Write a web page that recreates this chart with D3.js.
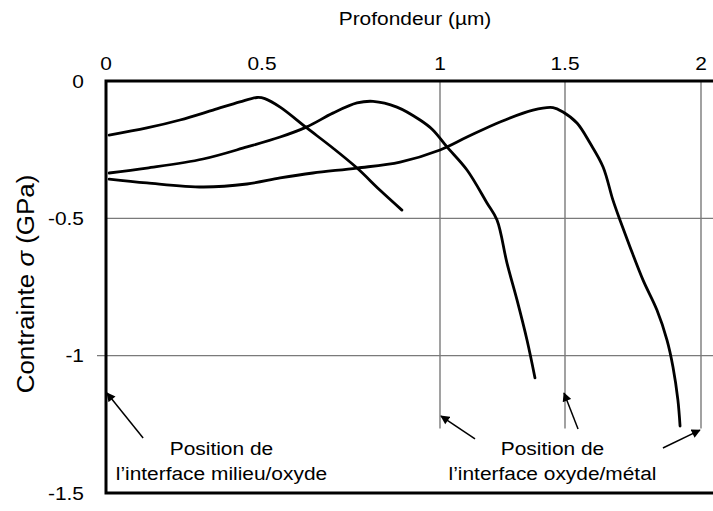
<!DOCTYPE html>
<html>
<head>
<meta charset="utf-8">
<script src="https://cdn.jsdelivr.net/npm/d3@7"></script>
<style>
body { margin: 0; background: #fff; }
text { font-family: "Liberation Sans", Arial, sans-serif; fill: #000; }
</style>
</head>
<body>
<script>
// ticks
var depthTicks = [0, 0.5, 1, 1.5, 2];
var depthTickLabels = ["0", "0.5", "1", "1.5", "2"];
var stressTicks = [0, -0.5, -1, -1.5];
var stressTickLabels = ["0", "-0.5", "-1", "-1.5"];
var interfaceDepths = [1, 1.5, 2];

// profiles [depth (um), stress (GPa)]
var profile1 = [[0.01,-0.197],[0.131,-0.171],[0.237,-0.142],[0.343,-0.106],[0.429,-0.076],
                [0.484,-0.060],[0.508,-0.064],[0.551,-0.095],[0.626,-0.171],[0.699,-0.244],
                [0.767,-0.317],[0.831,-0.397],[0.893,-0.470]];
var profile2 = [[0.01,-0.335],[0.131,-0.317],[0.311,-0.284],[0.452,-0.240],[0.551,-0.204],
                [0.626,-0.167],[0.699,-0.117],[0.767,-0.080],[0.812,-0.074],[0.879,-0.095],
                [0.944,-0.142],[0.980,-0.178],[1.028,-0.240],[1.108,-0.324],[1.188,-0.444],
                [1.228,-0.506],[1.268,-0.663],[1.308,-0.797],[1.348,-0.943],[1.380,-1.081]];
var profile3 = [[0.01,-0.357],[0.131,-0.371],[0.311,-0.386],[0.452,-0.375],[0.551,-0.353],
                [0.643,-0.335],[0.767,-0.317],[0.888,-0.295],[1.0,-0.251],[1.108,-0.204],
                [1.24,-0.149],[1.372,-0.106],[1.452,-0.097],[1.492,-0.113],[1.544,-0.153],
                [1.592,-0.226],[1.640,-0.313],[1.676,-0.433],[1.702,-0.506],[1.739,-0.604],
                [1.787,-0.725],[1.838,-0.834],[1.875,-0.943],[1.897,-1.041],[1.915,-1.161],
                [1.923,-1.256]];

// annotation arrows: [tail depth, tail stress, tip depth, tip stress]
var arrows = [[0.119,-1.300, 0.003,-1.136],
              [1.140,-1.303, 1.004,-1.220],
              [1.548,-1.267, 1.496,-1.136],
              [1.860,-1.336, 1.996,-1.271]];
var notes = [{x: 0.37, lines: ["Position de", "l\u2019interface milieu/oxyde"]},
             {x: 1.45, lines: ["Position de", "l\u2019interface oxyde/m\u00e9tal"]}];

var svg = d3.select("body").append("svg")
            .attr("width", 713)
            .attr("height", 511);

// the scanned axis is not uniform, so piecewise
var x = d3.scaleLinear().domain(depthTicks).range([106, 262, 440, 565, 701]);
var y = d3.scaleLinear().domain([0, -1.5]).range([81, 493]);

// the scan is a bit wider than tall, text too
var stretch = 1.1;
function label(px, py, str, anchor, size) {
    return svg.append("g")
              .attr("transform", "translate(" + px + "," + py + ") scale(" + stretch + ",1)")
              .append("text")
              .attr("text-anchor", anchor || "middle")
              .style("font-size", (size || 19) + "px")
              .text(str);
}

svg.append("defs").append("marker")
   .attr("id", "head")
   .attr("viewBox", "0 0 10 10")
   .attr("refX", 9).attr("refY", 5)
   .attr("markerWidth", 10).attr("markerHeight", 9)
   .attr("markerUnits", "userSpaceOnUse")
   .attr("orient", "auto")
   .append("path")
   .attr("d", "M0,0L10,5L0,10Z")
   .attr("fill", "#000");

// grid
svg.selectAll(".hgrid").data([-0.5, -1]).enter()
   .append("line")
   .attr("x1", function(d){ return d === -1 ? 97 : x(0); })
   .attr("x2", 713)
   .attr("y1", function(d){ return y(d); })
   .attr("y2", function(d){ return y(d); })
   .attr("stroke", "#7a7a7a").attr("stroke-width", 1.4);

svg.selectAll(".vgrid").data(interfaceDepths).enter()
   .append("line")
   .attr("x1", function(d){ return x(d); })
   .attr("x2", function(d){ return x(d); })
   .attr("y1", y(0))
   .attr("y2", y(-1.265))
   .attr("stroke", "#7a7a7a").attr("stroke-width", 1.4);

// profiles
var line = d3.line()
             .x(function(d){ return x(d[0]); })
             .y(function(d){ return y(d[1]); })
             .curve(d3.curveCatmullRom.alpha(0.5));

svg.selectAll(".profile").data([profile1, profile2, profile3]).enter()
   .append("path")
   .attr("d", line)
   .attr("fill", "none")
   .attr("stroke", "#000")
   .attr("stroke-width", 2.8)
   .attr("stroke-linejoin", "round")
   .attr("stroke-linecap", "round");

// frame (right side runs off the page)
svg.append("path")
   .attr("d", "M720," + y(0) + "H" + x(0) + "V" + y(-1.5) + "H720")
   .attr("fill", "none")
   .attr("stroke", "#000")
   .attr("stroke-width", 3);

// tick labels
depthTicks.forEach(function(d, i){
    label(x(d), 70, depthTickLabels[i]);
});
stressTicks.forEach(function(d, i){
    label(84, y(d), stressTickLabels[i], "end").attr("dy", "0.35em");
});

// titles
label(415, 25, "Profondeur (\u00b5m)");

var yt = svg.append("g")
   .attr("transform", "translate(34,284) rotate(-90) scale(1.08,1)")
   .append("text")
   .attr("text-anchor", "middle")
   .style("font-size", "24px");
yt.append("tspan").text("Contrainte ");
yt.append("tspan").style("font-style", "italic").text("\u03c3");
yt.append("tspan").text(" (GPa)");

// annotations
svg.selectAll(".arrow").data(arrows).enter()
   .append("line")
   .attr("x1", function(d){ return x(d[0]); })
   .attr("y1", function(d){ return y(d[1]); })
   .attr("x2", function(d){ return x(d[2]); })
   .attr("y2", function(d){ return y(d[3]); })
   .attr("stroke", "#000")
   .attr("stroke-width", 1.5)
   .attr("marker-end", "url(#head)");

notes.forEach(function(n){
    label(x(n.x), 455, n.lines[0]);
    label(x(n.x), 480, n.lines[1]);
});
</script>
</body>
</html>
